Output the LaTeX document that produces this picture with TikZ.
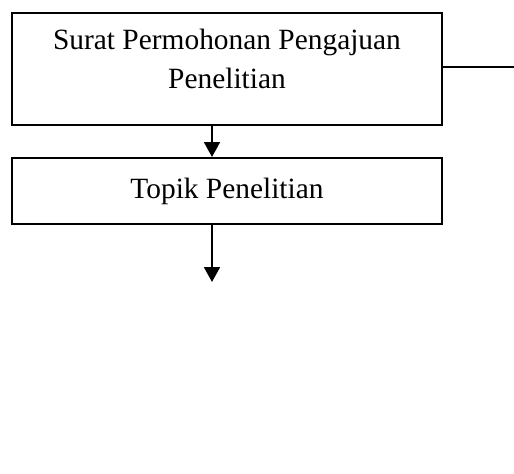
\documentclass[tikz,border=0pt]{standalone}
\usepackage{fontspec}
\setmainfont{Liberation Serif}
\usetikzlibrary{arrows.meta}

\begin{document}
\begin{tikzpicture}[x=0.5pt, y=0.5pt]
\tikzset{box/.style = {shape=rectangle, draw, line width=1pt, minimum width=215pt, align=center, font=\fontsize{14.7}{19.5}\selectfont, inner sep=0pt}}
    \tikzset{flow/.style = {draw=black, line width=1pt, -{Triangle[length=7.5pt, width=8pt]}}}
\useasboundingbox (0,0) rectangle (514,473);
% Define the two boxes of the flow
\node[box, minimum height=56pt, text depth=10pt] (surat) at (227,404){Surat Permohonan Pengajuan\\Penelitian};
\node[box, minimum height=33pt, text depth=3pt] (topik) at (227,282){Topik Penelitian};
\coordinate (out) at (514,406);
\coordinate (down) at (212,191);

% Draw the connectors
\draw[flow] (surat.south -| down) to (topik.north -| down);
\draw[flow] (topik.south -| down) to (down);
\draw[black, line width=1pt] (surat.east |- out) to (out);
\end{tikzpicture}
\end{document}
